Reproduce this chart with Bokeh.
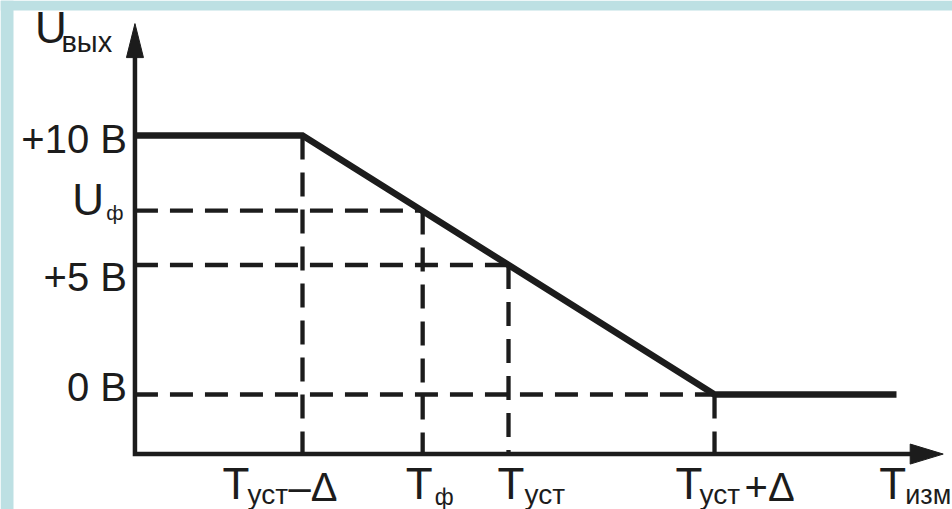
import numpy as np
from bokeh.plotting import figure
from bokeh.models import ColumnDataSource, Range1d, BoxAnnotation
from bokeh.core.properties import value
from bokeh.embed import file_html
from bokeh.resources import INLINE

# ---------------- data ----------------
volt_levels = [10.0, 7.1, 5.0, 0.0]
volt_labels = ["+10 В", "U", "+5 В", "0 В"]
volt_subs = ["", "ф", "", ""]

time_points = [4.0, 5.75, 7.0, 10.0]
time_mains = ["T", "T", "T", "T"]
time_subs = ["уст", "ф", "уст", "уст"]
time_suffixes = ["–Δ", "", "", "+Δ"]

curve_time = [1.56, 4.0, 10.0, 12.65]
curve_volt = [10.0, 10.0, 0.0, 0.0]

y_title = ["U", "вых"]
x_title = ["T", "изм"]

axis_time = 1.56
axis_volt = -2.3
axis_time_end = 13.33
axis_volt_end = 14.32

# ---------------- style ----------------
INK = "#1c1c1c"
TEAL = "#bde0e3"
FONT = value("Liberation Sans")
W, H = 952, 509
X0, X1 = -0.398, 13.4656
Y0, Y1 = -4.440, 15.212
sx = W / (X1 - X0)
sy = H / (Y1 - Y0)
K = 0.36  # baseline correction (em)

p = figure(width=W, height=H, output_backend="svg", toolbar_location=None,
           x_range=Range1d(X0, X1), y_range=Range1d(Y0, Y1),
           x_axis_type=None, y_axis_type=None, title=None,
           min_border_left=0, min_border_top=0, min_border_right=0, min_border_bottom=0,
           background_fill_color="white", border_fill_color="white",
           outline_line_color=None)
p.grid.visible = False

# page frame strips (teal) on the left and top
p.add_layout(BoxAnnotation(left=X0, right=X0 + 13 / sx, fill_color=TEAL, fill_alpha=1,
                           line_alpha=0, level="underlay"))
p.add_layout(BoxAnnotation(bottom=Y1 - 10 / sy, top=Y1, fill_color=TEAL, fill_alpha=1,
                           line_alpha=0, level="underlay"))

# dashed guides
h_xs, h_ys = [], []
for i in range(1, len(volt_levels)):
    h_xs.append([axis_time, time_points[i]])
    h_ys.append([volt_levels[i], volt_levels[i]])
p.multi_line(h_xs, h_ys, line_color=INK, line_width=4.3, line_dash="23 12")
v_xs, v_ys = [], []
for i in range(len(time_points)):
    v_xs.append([time_points[i], time_points[i]])
    v_ys.append([volt_levels[i], axis_volt])
p.multi_line(v_xs, v_ys, line_color=INK, line_width=4.3, line_dash="24 13")

# axes with arrows
ya_len, ya_half = 34 / sy, 8.5 / sx
xa_len, xa_half = 33 / sx, 10 / sy
p.line([axis_time, axis_time, axis_time_end - xa_len + 1 / sx],
       [axis_volt_end - ya_len + 1 / sy, axis_volt, axis_volt],
       line_color=INK, line_width=4.5, line_join="miter")
p.patches([[axis_time, axis_time - ya_half, axis_time + ya_half],
           [axis_time_end, axis_time_end - xa_len, axis_time_end - xa_len]],
          [[axis_volt_end, axis_volt_end - ya_len, axis_volt_end - ya_len],
           [axis_volt, axis_volt + xa_half, axis_volt - xa_half]],
          fill_color=INK, line_color=INK, line_width=1)

# characteristic curve
p.line(curve_time, curve_volt, line_color=INK, line_width=6.5, line_join="miter")

# ---------------- texts ----------------
def txt(xs, ys, texts, xo, yo, sizes, align="left"):
    yo = [b - K * s for b, s in zip(yo, sizes)]
    src = ColumnDataSource(dict(x=xs, y=ys, t=texts, xo=xo, yo=yo,
                                fs=["%dpx" % s for s in sizes]))
    p.text("x", "y", text="t", x_offset="xo", y_offset="yo", text_font_size="fs",
           text_font=FONT, text_color=INK, text_align=align,
           text_baseline="alphabetic", source=src)

# voltage labels
txt([axis_time] * 4, volt_levels, volt_labels,
    [-8, -31, -8, -8], [18, 5, 26, 7], [40, 44, 40, 40], "right")
txt([axis_time], [volt_levels[1]], [volt_subs[1]], [-11.5], [9], [21], "right")

# y axis title
txt([axis_time], [axis_volt_end], [y_title[0]], [-100], [20], [44])
txt([axis_time], [axis_volt_end], [y_title[1]], [-73.5], [29], [29])

# time labels
txt(time_points, [axis_volt] * 4, time_mains,
    [-80, -17, -11, -39], [45.5] * 4, [44] * 4)
txt(time_points, [axis_volt] * 4, time_subs,
    [-55, 12, 16, -15], [51, 51, 51, 51], [28, 23, 28, 28])
txt([time_points[0], time_points[3]], [axis_volt] * 2, [time_suffixes[0], time_suffixes[3]],
    [-14, 30], [47.5] * 2, [40, 40])

# x axis title
txt([axis_time_end], [axis_volt], [x_title[0]], [-64], [45.5], [44])
txt([axis_time_end], [axis_volt], [x_title[1]], [-38], [51], [27])

open("out.html", "w").write(file_html(p, INLINE))
